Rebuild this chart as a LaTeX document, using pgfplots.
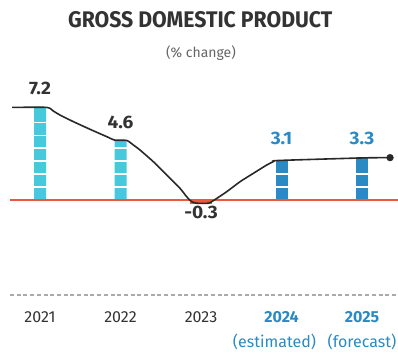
\documentclass[border=0pt]{standalone}
\usepackage{fontspec}
\setmainfont{Fira Sans}
\newfontfamily\titlefont[FakeStretch=0.94]{Fira Sans}
\newfontfamily\condfont[FakeStretch=1.06]{Fira Sans}
\usepackage{pgfplots}
\pgfplotsset{compat=1.18}
\definecolor{lightbar}{RGB}{70,200,221}
\definecolor{darkbar}{RGB}{42,138,196}
\definecolor{zeroline}{RGB}{236,88,60}
\definecolor{curve}{RGB}{40,40,40}
\definecolor{titlec}{RGB}{51,51,51}
\definecolor{subc}{RGB}{102,102,102}
\definecolor{dashc}{RGB}{170,170,170}
\tikzset{vallab/.style={font=\condfont\bfseries\fontsize{18bp}{20bp}\selectfont}}
\begin{document}
\begin{tikzpicture}
\useasboundingbox (0,0) rectangle (398bp,358bp);
\begin{axis}[
  at={(10bp,63bp)}, anchor=south west,
  scale only axis, width=388bp, height=295bp,
  xmin=-0.373, xmax=4.447, ymin=-7.336, ymax=15.444,
  axis x line*=bottom, axis y line=none,
  x axis line style={-, draw=dashc, line width=1.2bp, dash pattern=on 4bp off 2.7bp},
  xtick={0,1,2,3,4},
  xticklabels={2021,2022,2023,{\textcolor{darkbar}{\textbf{2024}}\\\textcolor{darkbar}{(estimated)}\hspace*{14bp}},{\textcolor{darkbar}{\textbf{2025}}\\\textcolor{darkbar}{(forecast)}}},
  xticklabel style={align=center, text=titlec, font=\fontsize{16bp}{25bp}\selectfont, yshift=-13bp},
  major tick length=0pt,
  ytick=\empty,
  clip=false,
]
% bars
\addplot[ybar, bar width=12bp, bar shift=0pt, fill=lightbar, draw=none,
  nodes near coords, point meta=explicit symbolic,
  nodes near coords style={vallab, text=titlec, yshift=8.5bp}]
  coordinates {(0,7.2)[7.2] (1,4.6)[4.6]};
\addplot[ybar, bar width=12bp, bar shift=0pt, fill=darkbar, draw=none,
  nodes near coords, point meta=explicit symbolic,
  nodes near coords style={vallab, text=darkbar, yshift=12bp}]
  coordinates {(3,3.1)[3.1]};
\addplot[ybar, bar width=12bp, bar shift=0pt, fill=darkbar, draw=none,
  nodes near coords, point meta=explicit symbolic,
  nodes near coords style={vallab, text=darkbar, yshift=9bp}]
  coordinates {(4,3.3)[3.3]};
\addplot[ybar, bar width=22bp, bar shift=0pt, fill=zeroline, draw=none,
  nodes near coords, point meta=explicit symbolic,
  nodes near coords style={vallab, text=titlec, anchor=north, yshift=1bp}]
  coordinates {(2,-0.3)[-0.3]};
% white stripes on bars
\addplot[only marks, mark=-, mark size=6.5bp, white, line width=1.4bp]
  coordinates {(0,1)(0,2)(0,3)(0,4)(0,5)(0,6)(1,1)(1,2)(1,3)(1,4)(3,1)(3,2)(4,1)(4,2)};
% zero line
\addplot[zeroline, line width=1.6bp] coordinates {(-0.373,0)(4.447,0)};
% curve
\addplot[curve, line width=1.6bp, smooth, tension=0.35] coordinates {
(-0.348,7.15)(0.083,7.15)(0.165,6.87)(0.248,6.56)(0.414,6.05)(0.621,5.46)(0.829,4.89)
(0.932,4.62)(1.077,4.6)(1.159,4.25)(1.242,3.86)(1.407,2.96)(1.574,1.93)(1.739,0.9)
(1.822,0.25)(1.884,-0.13)(1.947,-0.25)(2.091,-0.25)(2.153,-0.05)(2.319,0.64)(2.484,1.41)
(2.65,2.06)(2.816,2.7)(2.898,2.96)(2.96,3.05)(4.012,3.25)(4.348,3.27)};
\addplot[only marks, mark=*, mark size=3.4bp, curve] coordinates {(4.348,3.27)};
% title and subtitle
\node[font=\titlefont\bfseries\fontsize{22.6bp}{26bp}\selectfont, text=titlec] at (axis cs:1.99,13.94) {GROSS DOMESTIC PRODUCT};
\node[font=\fontsize{14bp}{16bp}\selectfont, text=subc] at (axis cs:2.0,11.35) {(\% change)};
\end{axis}
\end{tikzpicture}
\end{document}
